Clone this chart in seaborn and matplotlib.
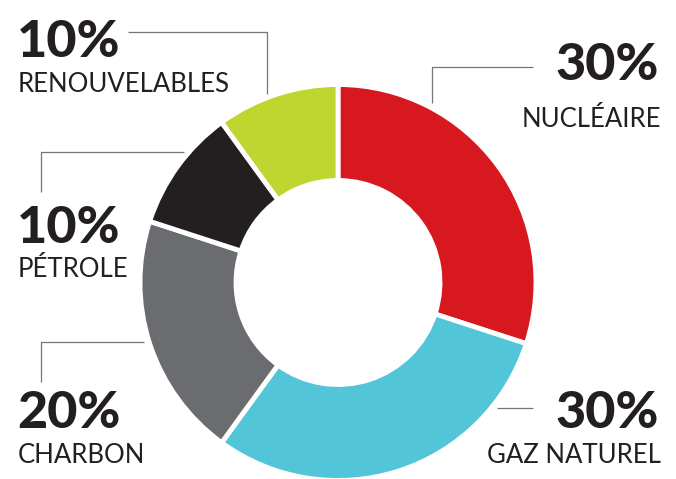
import matplotlib
matplotlib.use("Agg")
import matplotlib.pyplot as plt
import seaborn as sns

# energy mix shares (percent), clockwise from 12 o'clock
sources = ["NUCLÉAIRE", "GAZ NATUREL", "CHARBON", "PÉTROLE", "RENOUVELABLES"]
shares = [30, 30, 20, 10, 10]
colors = ["#D7191F", "#52C5D8", "#6B6C70", "#231F20", "#BED62F"]

sns.set_theme(style="white")
plt.rcParams["font.family"] = ["Lato", "DejaVu Sans"]

W, H = 676, 479
fig = plt.figure(figsize=(W / 100, H / 100), dpi=100)
ax = fig.add_axes([0, 0, 1, 1])

# donut, centre and radius in pixel units
cx, cy = 338, H - 282.5
ax.pie(shares, colors=sns.color_palette(colors), startangle=90, counterclock=False,
       radius=198, center=(cx, cy),
       wedgeprops=dict(width=96, edgecolor="white", linewidth=3.5))
ax.set_xlim(0, W)
ax.set_ylim(0, H)
ax.set_aspect("equal")
ax.axis("off")

txt = "#231F20"
line_kw = dict(color="#767676", lw=0.9, solid_capstyle="butt")


def py(y):
    # pixel row -> data y
    return H - y


# label layout: (x, pct baseline, name baseline, ha, leader points)
layout = {
    "NUCLÉAIRE": (659, 80, 127, "right", [(533, 67), (432, 67), (432, 103)]),
    "GAZ NATUREL": (659, 428, 463, "right", [(497, 408), (533, 408)]),
    "CHARBON": (17, 428, 463, "left", [(41, 382), (41, 342), (144, 342)]),
    "PÉTROLE": (17, 243, 277, "left", [(41, 192), (41, 152), (184, 152)]),
    "RENOUVELABLES": (17, 57, 92, "left", [(128, 32), (267, 32), (267, 94)]),
}

for name, val in zip(sources, shares):
    x, yb_pct, yb_name, ha, pts = layout[name]
    ax.text(x, py(yb_pct), f"{val}%", ha=ha, va="baseline", fontsize=37.5,
            fontweight="black", color=txt)
    ax.text(x + (2 if ha == "right" else 1), py(yb_name), name, ha=ha, va="baseline",
            fontsize=18.5, fontweight="normal", color=txt)
    xs, ys = zip(*pts)
    ax.plot(xs, [py(v) for v in ys], **line_kw)

fig.savefig("out.png", dpi=100, facecolor="white")
